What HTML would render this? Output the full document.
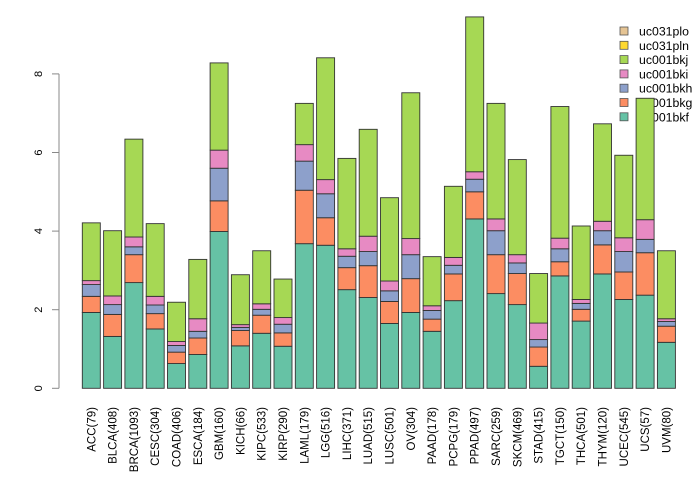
<!DOCTYPE html>
<html><head><meta charset="utf-8"><style>
html,body{margin:0;padding:0;background:#fff;}
svg{display:block;font-family:"Liberation Sans",sans-serif;}
</style></head><body>
<svg id="chart" width="700" height="480" viewBox="0 0 700 480" xmlns="http://www.w3.org/2000/svg"></svg>
<script>
const categories = ["ACC(79)","BLCA(408)","BRCA(1093)","CESC(304)","COAD(406)","ESCA(184)","GBM(160)","KICH(66)","KIPC(533)","KIRP(290)","LAML(179)","LGG(516)","LIHC(371)","LUAD(515)","LUSC(501)","OV(304)","PAAD(178)","PCPG(179)","PPAD(497)","SARC(259)","SKCM(469)","STAD(415)","TGCT(150)","THCA(501)","THYM(120)","UCEC(545)","UCS(57)","UVM(80)"];
const bkf = [1.93,1.32,2.69,1.51,0.63,0.86,3.99,1.08,1.40,1.07,3.68,3.64,2.51,2.31,1.65,1.93,1.45,2.23,4.31,2.41,2.13,0.56,2.86,1.71,2.91,2.26,2.37,1.17];
const bkg = [0.41,0.56,0.71,0.39,0.29,0.42,0.78,0.39,0.46,0.34,1.36,0.70,0.56,0.81,0.56,0.86,0.31,0.68,0.69,0.99,0.79,0.49,0.36,0.30,0.74,0.70,1.08,0.41];
const bkh = [0.30,0.25,0.20,0.22,0.17,0.17,0.83,0.08,0.15,0.22,0.74,0.61,0.29,0.36,0.27,0.61,0.22,0.22,0.32,0.61,0.27,0.19,0.33,0.15,0.36,0.52,0.34,0.12];
const bki = [0.10,0.22,0.25,0.22,0.10,0.32,0.46,0.07,0.14,0.17,0.42,0.36,0.19,0.39,0.25,0.41,0.12,0.20,0.19,0.30,0.21,0.42,0.27,0.10,0.24,0.35,0.50,0.07];
const bkj = [1.47,1.66,2.49,1.85,1.00,1.51,2.22,1.27,1.35,0.98,1.05,3.10,2.30,2.72,2.12,3.71,1.25,1.81,3.94,2.94,2.42,1.26,3.35,1.87,2.48,2.10,3.09,1.73];
const pln = new Array(28).fill(0);
const plo = new Array(28).fill(0);
const yTicks = [0,2,4,6,8];
const legendLabels = ["uc031plo","uc031pln","uc001bkj","uc001bki","uc001bkh","uc001bkg","uc001bkf"];

const series = [bkf,bkg,bkh,bki,bkj,pln,plo];
const colors = ["#66c2a5","#fc8d62","#8da0cb","#e78ac3","#a6d854","#ffd92f","#e5c494"];
const legendColors = ["#e5c494","#ffd92f","#a6d854","#e78ac3","#8da0cb","#fc8d62","#66c2a5"];
const NS = "http://www.w3.org/2000/svg";
const svg = document.getElementById("chart");
function yScale(v){ return 388.3 - v*39.3; }
function xScale(i){ return 82.3 + i*21.3; }
const barW = 18;
function mk(tag, attrs){ const e=document.createElementNS(NS,tag); for(const k in attrs) e.setAttribute(k,attrs[k]); svg.appendChild(e); return e; }

legendLabels.forEach((lab,i)=>{
  const y = 31 + i*14.3;
  const r = mk("rect",{x:620,y:y-4,width:8,height:8,fill:legendColors[i],stroke:"#555","stroke-width":0.8});
  
  
  const t = mk("text",{x:639,y:y+4.5,"font-size":12.3,fill:"#000"});
  t.textContent = lab;
  
  
});

const ax = mk("line",{x1:59,y1:yScale(0),x2:59,y2:yScale(8),stroke:"#888","stroke-width":1});


yTicks.forEach(v=>{
  const y=yScale(v);
  const tk = mk("line",{x1:52,y1:y,x2:59,y2:y,stroke:"#888","stroke-width":1});
  
  
  const t = mk("text",{x:0,y:0,"font-size":11,"text-anchor":"middle",transform:`translate(42,${y}) rotate(-90)`});
  t.textContent = v;
  
  
});

categories.forEach((cat,i)=>{
  let cum = 0;
  const x = xScale(i);
  series.forEach((s,k)=>{
    const v = s[i];
    if(v<=0) return;
    const y0=yScale(cum), y1=yScale(cum+v);
    const r = mk("rect",{x:x,y:y1,width:barW,height:y0-y1,fill:colors[k],stroke:"#333","stroke-width":0.9});
    
    
    cum += v;
  });
  const t = mk("text",{x:0,y:0,"font-size":11.5,"text-anchor":"end",transform:`translate(${x+barW/2+4},407) rotate(-90)`});
  t.textContent = cat;
  
  
});
</script>
</body></html>
